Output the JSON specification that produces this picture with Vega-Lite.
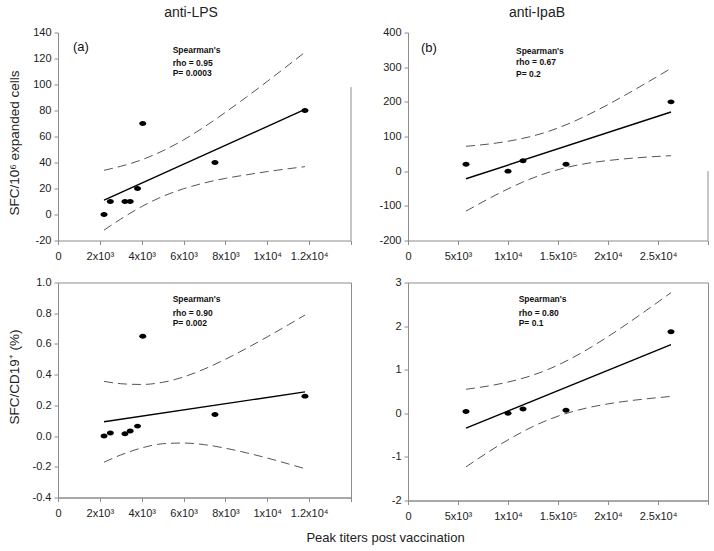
{
  "$schema": "https://vega.github.io/schema/vega-lite/v6.json",
  "padding": {"left": 6, "top": 5.5, "right": 0, "bottom": 0},
  "background": "white",
  "columns": 2,
  "bounds": "flush",
  "align": "each",
  "spacing": {"row": 42, "column": 57},
  "config": {
    "font": "Liberation Sans",
    "view": {"stroke": null},
    "axis": {
      "domainColor": "#8c8c8c", "tickColor": "#8c8c8c", "tickSize": 4,
      "labelFont": "Liberation Sans", "labelFontSize": 11, "labelColor": "#222",
      "titleFont": "Liberation Sans", "titleFontSize": 13.5, "titleColor": "#222", "titleFontWeight": "normal",
      "grid": false, "labelFlush": false, "labelOverlap": false
    },
    "title": {"font": "Liberation Sans", "fontSize": 14, "fontWeight": "normal", "color": "#222", "baseline": "alphabetic", "offset": 7}
  },
  "datasets": {
    "p1pts": [{"x":2200,"y":0},{"x":2500,"y":10},{"x":3200,"y":10},{"x":3450,"y":10},{"x":3800,"y":20},{"x":4050,"y":70},{"x":7500,"y":40},{"x":11800,"y":80}],
    "p1fit": [{"x":2200,"y":11.0},{"x":11800,"y":80.8}],
    "p1ci": [
      {"s":"up","x":2200,"y":34.0},{"s":"up","x":3000,"y":37.1},{"s":"up","x":4000,"y":42.1},{"s":"up","x":5000,"y":48.9},{"s":"up","x":6000,"y":57.4},{"s":"up","x":7000,"y":67.5},{"s":"up","x":8000,"y":78.6},{"s":"up","x":9000,"y":90.3},{"s":"up","x":10000,"y":102.4},{"s":"up","x":11000,"y":114.8},{"s":"up","x":11800,"y":124.8},
      {"s":"lo","x":2200,"y":-12.0},{"s":"lo","x":3000,"y":-3.5},{"s":"lo","x":4000,"y":6.1},{"s":"lo","x":5000,"y":13.9},{"s":"lo","x":6000,"y":19.8},{"s":"lo","x":7000,"y":24.3},{"s":"lo","x":8000,"y":27.8},{"s":"lo","x":9000,"y":30.5},{"s":"lo","x":10000,"y":33.0},{"s":"lo","x":11000,"y":35.2},{"s":"lo","x":11800,"y":36.8}
    ],
    "p1txt": [{"x":5480,"y":126.2,"t":"Spearman's"},{"x":5480,"y":116.9,"t":"rho = 0.95"},{"x":5480,"y":108.5,"t":"P= 0.0003"}],
    "p2pts": [{"x":5800,"y":20},{"x":10000,"y":0},{"x":11500,"y":30},{"x":15800,"y":20},{"x":26300,"y":200}],
    "p2fit": [{"x":5800,"y":-21.8},{"x":26300,"y":170.6}],
    "p2ci": [
      {"s":"up","x":5800,"y":71.7},{"s":"up","x":7000,"y":74.9},{"s":"up","x":8000,"y":78.0},{"s":"up","x":10000,"y":86.3},{"s":"up","x":12000,"y":98.0},{"s":"up","x":14000,"y":114.3},{"s":"up","x":16000,"y":136.1},{"s":"up","x":18000,"y":162.5},{"s":"up","x":20000,"y":192.1},{"s":"up","x":22000,"y":224.0},{"s":"up","x":24000,"y":257.2},{"s":"up","x":26300,"y":296.6},
      {"s":"lo","x":5800,"y":-115.3},{"s":"lo","x":7000,"y":-96.1},{"s":"lo","x":8000,"y":-80.4},{"s":"lo","x":10000,"y":-51.1},{"s":"lo","x":12000,"y":-25.2},{"s":"lo","x":14000,"y":-4.1},{"s":"lo","x":16000,"y":11.7},{"s":"lo","x":18000,"y":22.9},{"s":"lo","x":20000,"y":30.7},{"s":"lo","x":22000,"y":36.4},{"s":"lo","x":24000,"y":40.8},{"s":"lo","x":26300,"y":44.6}
    ],
    "p2txt": [{"x":10800,"y":348,"t":"Spearman's"},{"x":10800,"y":313.5,"t":"rho = 0.67"},{"x":10800,"y":281.7,"t":"P= 0.2"}],
    "p3pts": [{"x":2200,"y":0.0},{"x":2500,"y":0.02},{"x":3200,"y":0.015},{"x":3450,"y":0.033},{"x":3800,"y":0.065},{"x":4050,"y":0.65},{"x":7500,"y":0.14},{"x":11800,"y":0.26}],
    "p3fit": [{"x":2200,"y":0.093},{"x":11800,"y":0.288}],
    "p3ci": [
      {"s":"up","x":2200,"y":0.356},{"s":"up","x":3000,"y":0.341},{"s":"up","x":4000,"y":0.336},{"s":"up","x":5000,"y":0.350},{"s":"up","x":6000,"y":0.385},{"s":"up","x":7000,"y":0.437},{"s":"up","x":8000,"y":0.500},{"s":"up","x":9000,"y":0.571},{"s":"up","x":10000,"y":0.646},{"s":"up","x":11000,"y":0.724},{"s":"up","x":11800,"y":0.788},
      {"s":"lo","x":2200,"y":-0.170},{"s":"lo","x":3000,"y":-0.123},{"s":"lo","x":4000,"y":-0.077},{"s":"lo","x":5000,"y":-0.050},{"s":"lo","x":6000,"y":-0.045},{"s":"lo","x":7000,"y":-0.056},{"s":"lo","x":8000,"y":-0.079},{"s":"lo","x":9000,"y":-0.109},{"s":"lo","x":10000,"y":-0.143},{"s":"lo","x":11000,"y":-0.181},{"s":"lo","x":11800,"y":-0.212}
    ],
    "p3txt": [{"x":5480,"y":0.891,"t":"Spearman's"},{"x":5480,"y":0.802,"t":"rho = 0.90"},{"x":5480,"y":0.735,"t":"P= 0.002"}],
    "p4pts": [{"x":5800,"y":0.04},{"x":10000,"y":0.0},{"x":11500,"y":0.1},{"x":15800,"y":0.07},{"x":26300,"y":1.87}],
    "p4fit": [{"x":5800,"y":-0.339},{"x":26300,"y":1.577}],
    "p4ci": [
      {"s":"up","x":5800,"y":0.551},{"s":"up","x":7000,"y":0.589},{"s":"up","x":8000,"y":0.625},{"s":"up","x":10000,"y":0.716},{"s":"up","x":12000,"y":0.839},{"s":"up","x":14000,"y":1.005},{"s":"up","x":16000,"y":1.219},{"s":"up","x":18000,"y":1.474},{"s":"up","x":20000,"y":1.760},{"s":"up","x":22000,"y":2.067},{"s":"up","x":24000,"y":2.388},{"s":"up","x":26300,"y":2.767},
      {"s":"lo","x":5800,"y":-1.229},{"s":"lo","x":7000,"y":-1.043},{"s":"lo","x":8000,"y":-0.893},{"s":"lo","x":10000,"y":-0.610},{"s":"lo","x":12000,"y":-0.359},{"s":"lo","x":14000,"y":-0.151},{"s":"lo","x":16000,"y":0.009},{"s":"lo","x":18000,"y":0.128},{"s":"lo","x":20000,"y":0.216},{"s":"lo","x":22000,"y":0.283},{"s":"lo","x":24000,"y":0.336},{"s":"lo","x":26300,"y":0.387}
    ],
    "p4txt": [{"x":11070,"y":2.617,"t":"Spearman's"},{"x":11070,"y":2.303,"t":"rho = 0.80"},{"x":11070,"y":2.066,"t":"P= 0.1"}]
  },
  "concat": [
    {
      "width": 293, "height": 208,
      "title": {"text": "anti-LPS", "dx": -13.5},
      "encoding": {
        "x": {"field": "x", "type": "quantitative", "scale": {"domain": [0, 14000], "nice": false, "zero": false},
              "axis": {"title": null, "values": [0,2000,4000,6000,8000,10000,12000,14000], "labelPadding": 6,
                       "labelExpr": "['0','2x10³','4x10³','6x10³','8x10³','1x10⁴','1.2x10⁴',''][round(datum.value/2000)]"}},
        "y": {"field": "y", "type": "quantitative", "scale": {"domain": [-20, 140], "nice": false, "zero": false},
              "axis": {"title": "SFC/10⁶ expanded cells", "values": [-20,0,20,40,60,80,100,120,140], "labelPadding": 3,
                       "labelExpr": "replace(datum.label,'−','-')", "titleX": -44, "titleY": 110, "titleBaseline": "middle"}}
      },
      "layer": [
        {"data": {"name": "p1ci"}, "mark": {"type": "line", "strokeDash": [9, 5], "color": "#555", "strokeWidth": 1, "interpolate": "monotone"}, "encoding": {"detail": {"field": "s"}}},
        {"data": {"name": "p1fit"}, "mark": {"type": "line", "color": "#000", "strokeWidth": 1.4}},
        {"data": {"name": "p1pts"}, "mark": {"type": "point", "shape": "M-1,0A1,0.7,0,1,0,1,0A1,0.7,0,1,0,-1,0Z", "filled": true, "color": "#000", "opacity": 1, "size": 49}},
        {"data": {"name": "p1txt"}, "mark": {"type": "text", "align": "left", "baseline": "middle", "font": "Liberation Sans", "fontSize": 8.5, "fontWeight": "bold", "color": "#111"}, "encoding": {"text": {"field": "t"}}},
        {"data": {"values": [{"x": 717, "y": 128.5, "t": "(a)"}]}, "mark": {"type": "text", "align": "left", "baseline": "middle", "fontSize": 13, "color": "#111"}, "encoding": {"text": {"field": "t"}}},
        {"data": {"values": [{"x": 14000, "y": 98, "y2": -20}]}, "mark": {"type": "rule", "color": "#8c8c8c"}, "encoding": {"y2": {"field": "y2"}}}
      ]
    },
    {
      "width": 300, "height": 208,
      "title": {"text": "anti-IpaB", "dx": -21},
      "encoding": {
        "x": {"field": "x", "type": "quantitative", "scale": {"domain": [0, 30000], "nice": false, "zero": false},
              "axis": {"title": null, "values": [0,5000,10000,15000,20000,25000,30000], "labelPadding": 6,
                       "labelExpr": "['0','5x10³','1x10⁴','1.5x10⁵','2x10⁴','2.5x10⁴',''][round(datum.value/5000)]"}},
        "y": {"field": "y", "type": "quantitative", "scale": {"domain": [-200, 400], "nice": false, "zero": false},
              "axis": {"title": null, "values": [-200,-100,0,100,200,300,400], "labelPadding": 3,
                       "labelExpr": "replace(datum.label,'−','-')"}}
      },
      "layer": [
        {"data": {"name": "p2ci"}, "mark": {"type": "line", "strokeDash": [9, 5], "color": "#555", "strokeWidth": 1, "interpolate": "monotone"}, "encoding": {"detail": {"field": "s"}}},
        {"data": {"name": "p2fit"}, "mark": {"type": "line", "color": "#000", "strokeWidth": 1.4}},
        {"data": {"name": "p2pts"}, "mark": {"type": "point", "shape": "M-1,0A1,0.7,0,1,0,1,0A1,0.7,0,1,0,-1,0Z", "filled": true, "color": "#000", "opacity": 1, "size": 49}},
        {"data": {"name": "p2txt"}, "mark": {"type": "text", "align": "left", "baseline": "middle", "font": "Liberation Sans", "fontSize": 8.5, "fontWeight": "bold", "color": "#111"}, "encoding": {"text": {"field": "t"}}},
        {"data": {"values": [{"x": 1300, "y": 356.7, "t": "(b)"}]}, "mark": {"type": "text", "align": "left", "baseline": "middle", "fontSize": 13, "color": "#111"}, "encoding": {"text": {"field": "t"}}},
        {"data": {"values": [{"x": 30000, "y": 0, "y2": -200}]}, "mark": {"type": "rule", "color": "#8c8c8c"}, "encoding": {"y2": {"field": "y2"}}}
      ]
    },
    {
      "width": 293, "height": 215,
      "view": {"stroke": "#8c8c8c"},
      "encoding": {
        "x": {"field": "x", "type": "quantitative", "scale": {"domain": [0, 14000], "nice": false, "zero": false},
              "axis": {"title": "Peak titers post vaccination", "values": [0,2000,4000,6000,8000,10000,12000,14000], "labelPadding": 6,
                       "labelExpr": "['0','2x10³','4x10³','6x10³','8x10³','1x10⁴','1.2x10⁴',''][round(datum.value/2000)]",
                       "titleX": 327, "titleY": 40, "titleBaseline": "middle", "titleAlign": "center", "titleFontSize": 13}},
        "y": {"field": "y", "type": "quantitative", "scale": {"domain": [-0.4, 1.0], "nice": false, "zero": false},
              "axis": {"title": "SFC/CD19⁺ (%)", "values": [-0.4,-0.2,0,0.2,0.4,0.6,0.8,1.0], "format": ".1f", "labelPadding": 3,
                       "labelExpr": "replace(datum.label,'−','-')", "titleX": -44, "titleY": 94, "titleBaseline": "middle"}}
      },
      "layer": [
        {"data": {"name": "p3ci"}, "mark": {"type": "line", "strokeDash": [9, 5], "color": "#555", "strokeWidth": 1, "interpolate": "monotone"}, "encoding": {"detail": {"field": "s"}}},
        {"data": {"name": "p3fit"}, "mark": {"type": "line", "color": "#000", "strokeWidth": 1.4}},
        {"data": {"name": "p3pts"}, "mark": {"type": "point", "shape": "M-1,0A1,0.7,0,1,0,1,0A1,0.7,0,1,0,-1,0Z", "filled": true, "color": "#000", "opacity": 1, "size": 49}},
        {"data": {"name": "p3txt"}, "mark": {"type": "text", "align": "left", "baseline": "middle", "font": "Liberation Sans", "fontSize": 8.5, "fontWeight": "bold", "color": "#111"}, "encoding": {"text": {"field": "t"}}}
      ]
    },
    {
      "width": 300, "height": 218,
      "view": {"stroke": "#8c8c8c"},
      "encoding": {
        "x": {"field": "x", "type": "quantitative", "scale": {"domain": [0, 30000], "nice": false, "zero": false},
              "axis": {"title": null, "values": [0,5000,10000,15000,20000,25000,30000], "labelPadding": 6,
                       "labelExpr": "['0','5x10³','1x10⁴','1.5x10⁵','2x10⁴','2.5x10⁴',''][round(datum.value/5000)]"}},
        "y": {"field": "y", "type": "quantitative", "scale": {"domain": [-2, 3], "nice": false, "zero": false},
              "axis": {"title": null, "values": [-2,-1,0,1,2,3], "labelPadding": 3,
                       "labelExpr": "replace(datum.label,'−','-')"}}
      },
      "layer": [
        {"data": {"name": "p4ci"}, "mark": {"type": "line", "strokeDash": [9, 5], "color": "#555", "strokeWidth": 1, "interpolate": "monotone"}, "encoding": {"detail": {"field": "s"}}},
        {"data": {"name": "p4fit"}, "mark": {"type": "line", "color": "#000", "strokeWidth": 1.4}},
        {"data": {"name": "p4pts"}, "mark": {"type": "point", "shape": "M-1,0A1,0.7,0,1,0,1,0A1,0.7,0,1,0,-1,0Z", "filled": true, "color": "#000", "opacity": 1, "size": 49}},
        {"data": {"name": "p4txt"}, "mark": {"type": "text", "align": "left", "baseline": "middle", "font": "Liberation Sans", "fontSize": 8.5, "fontWeight": "bold", "color": "#111"}, "encoding": {"text": {"field": "t"}}}
      ]
    }
  ]
}
